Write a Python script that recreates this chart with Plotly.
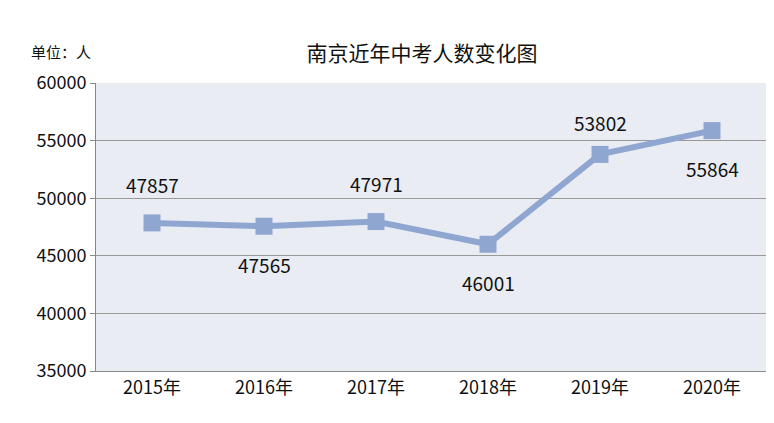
import plotly.graph_objects as go

years = ["2015年", "2016年", "2017年", "2018年", "2019年", "2020年"]
counts = [47857, 47565, 47971, 46001, 53802, 55864]
label_shift = [38, -38, 38, -38, 32, -38]

x = list(range(len(years)))

fig = go.Figure()
fig.add_trace(go.Scatter(
    x=x, y=counts, mode="lines+markers",
    line=dict(color="#8FA6D1", width=6),
    marker=dict(symbol="square", size=17, color="#8FA6D1"),
    cliponaxis=False,
))

annotations = [dict(text="单位：人", xref="paper", yref="paper", x=-0.1, y=1.11,
                    xanchor="left", yanchor="middle", showarrow=False, font=dict(size=15))]
for xi, v, s in zip(x, counts, label_shift):
    annotations.append(dict(x=xi, y=v, text=str(v), showarrow=False, yshift=s,
                            font=dict(size=19, color="#111111")))

fig.update_layout(
    width=774, height=423,
    margin=dict(l=88, r=14, t=75, b=60),
    paper_bgcolor="white", plot_bgcolor="#E9ECF3",
    font=dict(family="Noto Sans CJK SC", color="#111111"),
    title=dict(text="南京近年中考人数变化图", x=0.535, y=0.91, xanchor="center",
               font=dict(size=21)),
    showlegend=False,
    annotations=annotations,
)
fig.update_xaxes(range=[-0.5, 5.5], tickvals=x, ticktext=years, showgrid=False,
                 zeroline=False, showline=True, linecolor="#888888",
                 tickfont=dict(size=18))
fig.update_yaxes(range=[35000, 60000], dtick=5000, tickformat="d", gridcolor="#999999",
                 gridwidth=1, zeroline=False, showline=True, linecolor="#888888",
                 tickfont=dict(size=18), ticks="outside", ticklen=5, tickcolor="#888888")
fig.write_html("out.html")
